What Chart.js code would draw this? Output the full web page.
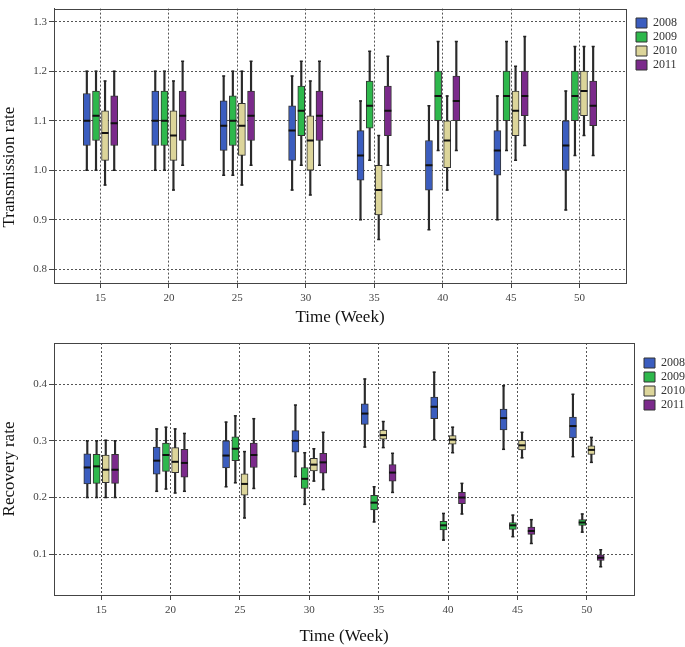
<!DOCTYPE html>
<html lang="en">
<head>
    <meta charset="UTF-8">
    <title>Transmission and recovery rate</title>
    <style>
        body { margin: 0; background: #fff; }
        #top { position: absolute; left: 0; top: 0; }
        #bottom { position: absolute; left: 0; top: 330px; }
    </style>
</head>
<body>

<script src="https://cdn.jsdelivr.net/npm/chart.js"></script>

<canvas id="top" width="685" height="330"></canvas>
<canvas id="bottom" width="685" height="317"></canvas>

<script>
    // x axis weeks and the four seasons
    const weeks = [15, 20, 25, 30, 35, 40, 45, 50];
    const years = ["2008", "2009", "2010", "2011"];
    const yearColors = ["#3B5DBF", "#2EB84C", "#DCD59A", "#7B2A8B"];
    const yearOffsets = [-1, -0.33, 0.33, 1]; // week shift of each box inside a group

    // each entry: [min, q1, median, q3, max]
    const trans2008 = [[1.00,1.05,1.10,1.155,1.20],[1.00,1.05,1.10,1.16,1.20],[0.99,1.04,1.09,1.14,1.19],[0.96,1.02,1.08,1.13,1.19],
                       [0.90,0.98,1.03,1.08,1.14],[0.88,0.96,1.01,1.06,1.13],[0.90,0.99,1.04,1.08,1.15],[0.92,1.00,1.05,1.10,1.16]];
    const trans2009 = [[1.00,1.06,1.11,1.16,1.20],[1.00,1.05,1.10,1.16,1.20],[0.99,1.05,1.10,1.15,1.20],[1.01,1.07,1.12,1.17,1.22],
                       [1.02,1.085,1.13,1.18,1.24],[1.04,1.10,1.15,1.20,1.26],[1.04,1.10,1.15,1.20,1.26],[1.03,1.10,1.15,1.20,1.25]];
    const trans2010 = [[0.97,1.02,1.075,1.12,1.18],[0.96,1.02,1.07,1.12,1.18],[0.97,1.03,1.09,1.135,1.20],[0.95,1.00,1.06,1.11,1.18],
                       [0.86,0.91,0.96,1.01,1.07],[0.96,1.005,1.06,1.10,1.15],[1.02,1.07,1.12,1.16,1.21],[1.07,1.11,1.16,1.20,1.25]];
    const trans2011 = [[1.00,1.05,1.095,1.15,1.20],[1.01,1.06,1.11,1.16,1.22],[1.01,1.06,1.11,1.16,1.22],[1.01,1.06,1.11,1.16,1.22],
                       [1.01,1.07,1.12,1.17,1.23],[1.04,1.10,1.14,1.19,1.26],[1.05,1.11,1.15,1.20,1.27],[1.03,1.09,1.13,1.18,1.25]];

    const recov2008 = [[0.200,0.224,0.253,0.277,0.300],[0.211,0.241,0.265,0.289,0.321],[0.219,0.252,0.274,0.300,0.333],[0.237,0.280,0.300,0.318,0.363],
                       [0.289,0.329,0.348,0.365,0.409],[0.302,0.339,0.360,0.377,0.421],[0.285,0.319,0.340,0.356,0.397],[0.272,0.305,0.326,0.342,0.382]];
    const recov2009 = [[0.200,0.225,0.255,0.276,0.300],[0.215,0.246,0.275,0.296,0.324],[0.226,0.265,0.286,0.307,0.344],[0.188,0.216,0.233,0.253,0.279],
                       [0.157,0.178,0.191,0.204,0.219],[0.125,0.143,0.151,0.158,0.172],[0.131,0.144,0.151,0.156,0.169],[0.139,0.151,0.156,0.161,0.171]];
    const recov2010 = [[0.200,0.226,0.249,0.275,0.301],[0.208,0.244,0.263,0.288,0.321],[0.164,0.204,0.224,0.242,0.281],[0.229,0.247,0.258,0.269,0.286],
                       [0.288,0.303,0.310,0.319,0.334],[0.279,0.294,0.302,0.309,0.324],[0.270,0.284,0.292,0.301,0.315],[0.262,0.276,0.284,0.291,0.306]];
    const recov2011 = [[0.200,0.225,0.249,0.276,0.300],[0.211,0.236,0.261,0.285,0.313],[0.216,0.253,0.275,0.296,0.339],[0.214,0.243,0.262,0.278,0.315],
                       [0.209,0.229,0.244,0.258,0.278],[0.171,0.189,0.200,0.209,0.225],[0.119,0.135,0.141,0.148,0.161],[0.078,0.089,0.094,0.099,0.108]];

    const transTicks = [0.8, 0.9, 1.0, 1.1, 1.2, 1.3];
    const recovTicks = [0.1, 0.2, 0.3, 0.4];

    const serif = "'Liberation Serif', 'DejaVu Serif', serif";
    Chart.defaults.font.family = serif;
    Chart.defaults.animation = false;

    // draws the plot frame on all four sides
    const framePlugin = {
        id: "frame",
        beforeDatasetsDraw(chart) {
            const a = chart.chartArea;
            const ctx = chart.ctx;
            ctx.save();
            ctx.strokeStyle = "#444";
            ctx.lineWidth = 1;
            ctx.strokeRect(Math.round(a.left) + 0.5, Math.round(a.top) + 0.5, Math.round(a.right - a.left), Math.round(a.bottom - a.top));
            ctx.restore();
        }
    };

    function boxSets(stats) {
        const sets = [];
        stats.forEach(function (rows, i) {
            const xs = weeks.map(w => w + yearOffsets[i]);
            sets.push({
                type: "bar", label: years[i] + " w", grouped: false, order: 3,
                data: rows.map((s, j) => ({x: xs[j], y: [s[0], s[4]]})),
                backgroundColor: "#2a2a2a", barThickness: 1.5
            });
            sets.push({
                type: "bar", label: years[i], isBox: true, grouped: false, order: 2,
                data: rows.map((s, j) => ({x: xs[j], y: [s[1], s[3]]})),
                backgroundColor: yearColors[i], borderColor: "#333", borderWidth: 1,
                borderSkipped: false, barThickness: 7
            });
            sets.push({
                type: "scatter", label: years[i] + " m", order: 1,
                data: rows.map((s, j) => ({x: xs[j], y: s[2]})),
                pointStyle: "line", pointRadius: 3.5, borderColor: "#111", borderWidth: 2
            });
            sets.push({
                type: "scatter", label: years[i] + " c", order: 1,
                data: rows.map((s, j) => ({x: xs[j], y: s[0]})).concat(rows.map((s, j) => ({x: xs[j], y: s[4]}))),
                pointStyle: "line", pointRadius: 1.5, borderColor: "#222", borderWidth: 1.5
            });
        });
        return sets;
    }

    function makeChart(id, stats, yTitle, yMin, yMax, yTicks, opt) {
        new Chart(document.getElementById(id), {
            type: "bar",
            data: {datasets: boxSets(stats)},
            plugins: [framePlugin],
            options: {
                responsive: false,
                layout: {padding: {top: opt.padTop, left: 0, right: opt.padRight, bottom: 0}},
                plugins: {
                    tooltip: {enabled: false},
                    legend: {
                        position: "right", align: "start", maxWidth: 43,
                        title: {display: true, text: "", font: {size: 10, lineHeight: 1}, padding: {top: opt.legendTop, bottom: 0}},
                        labels: {
                            boxWidth: 11, boxHeight: 10, padding: 2, color: "#333",
                            font: {family: serif, size: 12},
                            filter: (item, data) => data.datasets[item.datasetIndex].isBox
                        }
                    }
                },
                scales: {
                    x: {
                        type: "linear", min: 11.6, max: 53.4, offset: false,
                        afterBuildTicks: s => { s.ticks = weeks.map(v => ({value: v})); },
                        afterFit: s => { s.height = opt.xHeight; },
                        ticks: {color: "#444", font: {size: 11}, padding: 4, callback: v => String(v)},
                        grid: {offset: false, color: "#555", tickColor: "#444", tickLength: 5},
                        border: {color: "#444", dash: [2, 2]},
                        title: {display: true, text: "Time (Week)", color: "#111", font: {size: 17}, padding: {top: 0, bottom: opt.xTitlePad}}
                    },
                    y: {
                        min: yMin, max: yMax,
                        afterBuildTicks: s => { s.ticks = yTicks.map(v => ({value: v})); },
                        afterFit: s => { s.width = 54; },
                        ticks: {color: "#444", font: {size: 11}, padding: 2, callback: v => v.toFixed(1)},
                        grid: {color: "#555", tickColor: "#444", tickLength: 5},
                        border: {color: "#444", dash: [2, 2]},
                        title: {display: true, text: yTitle, color: "#111", font: {size: 17, lineHeight: 1.1}, padding: {top: 0, bottom: 0}}
                    },
                    gap: {
                        position: "right", display: true,
                        ticks: {display: false}, grid: {display: false}, border: {display: false},
                        afterFit: s => { s.width = opt.gap; }
                    }
                }
            }
        });
    }

    // trailing no-break spaces push the rotated title a little lower, as in the original
    makeChart("top", [trans2008, trans2009, trans2010, trans2011], "Transmission rate" + "\u00a0".repeat(10), 0.7724, 1.3263, transTicks,
        {padTop: 2, padRight: 8, xHeight: 47, xTitlePad: 2, gap: 8, legendTop: 3});
    makeChart("bottom", [recov2008, recov2009, recov2010, recov2011], "Recovery rate", 0.0282, 0.4724, recovTicks,
        {padTop: 13, padRight: 0, xHeight: 52, xTitlePad: 0, gap: 8, legendTop: 2});
</script>

</body>
</html>
